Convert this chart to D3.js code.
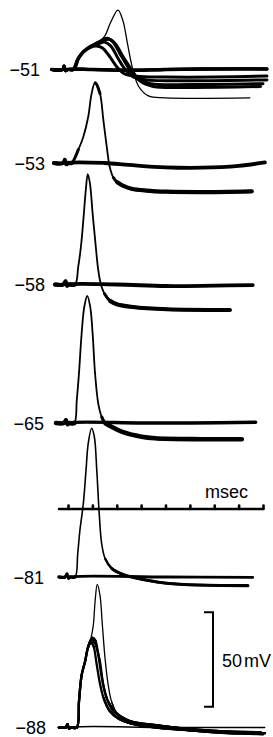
<!DOCTYPE html>
<html>
<head>
<meta charset="utf-8">
<script src="https://cdn.jsdelivr.net/npm/d3@7"></script>
<style>
  html, body { margin: 0; padding: 0; background: #fff; }
  svg { display: block; }
  text { font-family: "Liberation Sans", Arial, sans-serif; fill: #000; }
  path.trace { fill: none; stroke: #000; stroke-linecap: round; stroke-linejoin: round; }
</style>
</head>
<body>
<svg id="chart"></svg>
<script>
// resting potential of each row of sweeps (mV)
var restPotentials = [-51, -53, -58, -65, -81, -88];

// time marker: one pip per msec
var timeMarks = [0, 1, 2, 3, 4, 5, 6, 7, 8];
var timeMarkSpan = [-0.37, 8];

// calibration bar (mV)
var calibMv = 50;

// sweeps: [msec after stimulus, mV from rest]
// -51 mV: one flat sweep, graded humps, one full spike
var flat51 = [[-0.66,0],[-0.22,0],[-0.16,1.8],[-0.1,-0.6],[-0.02,0],[1,0],[2.5,-0.4],[4,0],[6,0.3],[8.16,0.3]];
var humpA51 = [[-0.66,0],[-0.22,0],[-0.16,1.8],[-0.1,-0.6],[-0.02,0],[0.22,0],[0.42,5.6],[0.63,9.2],[0.9,11.6],[1.15,12.4],[1.4,11.5],[1.7,7],[2.0,1.5],[2.3,-2.2],[2.8,-3.6],[4,-4],[6,-4],[8.16,-3.5]];
var humpB51 = [[-0.66,0],[-0.22,0],[-0.16,1.8],[-0.1,-0.6],[-0.02,0],[0.24,0],[0.44,6.2],[0.65,9.8],[0.9,12.2],[1.2,13.4],[1.5,14.5],[1.75,12.5],[2.05,6],[2.35,0],[2.7,-4],[3.2,-5.5],[5,-6],[8.16,-5.5]];
var humpC51 = [[-0.66,0],[-0.22,0],[-0.16,1.8],[-0.1,-0.6],[-0.02,0],[0.2,0],[0.4,5.4],[0.61,9],[0.9,12],[1.2,14],[1.6,16.5],[1.85,14.5],[2.15,8],[2.5,0.5],[2.8,-4.5],[3.4,-7.5],[5,-8],[8.0,-7.5]];
var humpD51 = [[-0.66,0],[-0.22,0],[-0.16,1.8],[-0.1,-0.6],[-0.02,0],[0.22,0],[0.42,5.9],[0.63,9.4],[0.9,11.8],[1.25,14.5],[1.7,16],[1.95,13.5],[2.25,7],[2.6,0],[2.95,-6],[3.5,-9],[5,-9.5],[7.9,-9]];
var spike51 = [[-0.66,0],[-0.22,0],[-0.16,1.8],[-0.1,-0.6],[-0.02,0],[0.22,0],[0.42,5.9],[0.63,9.4],[0.9,11.8],[1.2,13.8],[1.5,17.5],[1.75,25],[2.05,31.5],[2.25,26],[2.45,13],[2.66,0],[2.9,-9],[3.3,-14],[4,-15],[7.46,-15]];

// -53 mV
var flat53 = [[-0.57,0],[-0.2,0],[-0.13,1.8],[-0.07,-0.6],[0,0],[1.5,0],[2.5,-1],[4,-2.3],[5.5,-2.5],[7,-1.5],[8.08,0.3]];
var spike53 = [[-0.57,0],[-0.2,0],[-0.13,1.8],[-0.07,-0.6],[0,0],[0.15,0],[0.42,6.9],[0.63,13.9],[0.83,24.5],[0.97,36.9],[1.11,42.5],[1.31,36.9],[1.45,22.8],[1.59,8.6],[1.68,0],[1.75,-4],[1.85,-7.5],[2.0,-10],[2.25,-12],[2.6,-13.6],[3.2,-14.6],[4.06,-15.2],[5.5,-15.4],[7.54,-15]];

// -58 mV
var flat58 = [[-0.53,0],[-0.2,0],[-0.1,1.8],[-0.04,-0.6],[0.02,0],[2,0],[4,-0.8],[6,-0.6],[7.58,-0.3]];
var spike58 = [[-0.53,0],[-0.2,0],[-0.1,1.8],[-0.04,-0.6],[0.02,0],[0.29,0],[0.42,9.4],[0.53,20],[0.63,34.2],[0.73,50],[0.81,58.5],[0.9,53.6],[1.01,37.7],[1.14,20],[1.24,7.7],[1.35,0],[1.49,-4.7],[1.72,-8.6],[2.0,-10.4],[2.66,-11.9],[4.06,-13.1],[6.64,-13.5]];

// -65 mV
var flat65 = [[-0.49,0],[-0.18,0],[-0.08,1.8],[-0.02,-0.6],[0.04,0],[3,0],[5,0],[7.7,0.4]];
var spike65 = [[-0.49,0],[-0.18,0],[-0.08,1.8],[-0.02,-0.6],[0.04,0],[0.26,0],[0.36,12.2],[0.45,26.3],[0.56,47.5],[0.67,61.6],[0.79,67.3],[0.91,61.6],[1.01,47.5],[1.11,26.3],[1.24,10.4],[1.38,3.3],[1.52,0],[1.79,-2],[2.2,-4.6],[3.02,-7.3],[3.57,-8.1],[5.41,-8.6],[7.13,-8.6]];

// -81 mV
var flat81 = [[-0.37,0],[-0.12,0],[-0.04,1.8],[0.02,-0.6],[0.08,0],[4,0],[7.58,-0.2]];
var spike81 = [[-0.37,0],[-0.12,0],[-0.04,1.8],[0.02,-0.6],[0.08,0],[0.29,0],[0.4,12.6],[0.49,24.9],[0.63,39],[0.74,56.7],[0.83,70.8],[0.97,78.8],[1.08,74.3],[1.18,56.7],[1.28,33.7],[1.38,17.8],[1.52,9.9],[1.79,4.6],[2.2,1.6],[2.61,0],[4.05,-3.3],[7.38,-4.6]];

// -88 mV: flat sweep, three humps, one full spike
var flat88 = [[-0.37,0],[-0.1,0],[-0.02,1.8],[0.04,-0.6],[0.1,0],[4,0],[8.07,0]];
var humpA88 = [[-0.37,0],[-0.1,0],[-0.02,1.8],[0.04,-0.6],[0.1,0],[0.36,0],[0.45,13.7],[0.56,27.8],[0.7,34.9],[0.83,42.8],[0.97,46.5],[1.1,45],[1.2,41],[1.31,35],[1.45,22.5],[1.65,13.7],[2.06,6.6],[2.61,3.1],[3.57,1.3],[5.41,-1.5],[8.07,-3]];
var humpB88 = [[-0.37,0],[-0.1,0],[-0.02,1.8],[0.04,-0.6],[0.1,0],[0.36,0],[0.45,13.7],[0.56,27.8],[0.7,34.9],[0.83,42.8],[1.0,47.5],[1.12,46],[1.25,38],[1.38,27],[1.55,17],[1.79,10],[2.2,5.5],[2.8,2],[4,0],[6,-2.5],[8.0,-3.5]];
var humpC88 = [[-0.37,0],[-0.1,0],[-0.02,1.8],[0.04,-0.6],[0.1,0],[0.36,0],[0.45,13.7],[0.56,27.8],[0.7,34.9],[0.83,42.8],[0.95,45],[1.05,43],[1.17,34],[1.3,24],[1.45,16],[1.7,9],[2.1,4.5],[2.8,1.5],[4,-0.5],[6,-2],[7.9,-2.5]];
var spike88 = [[-0.37,0],[-0.1,0],[-0.02,1.8],[0.04,-0.6],[0.1,0],[0.36,0],[0.45,13.7],[0.56,27.8],[0.7,34.9],[0.83,42.8],[0.94,47.2],[1.04,54.3],[1.11,66.6],[1.2,75.8],[1.31,70.2],[1.41,54.3],[1.52,36.6],[1.65,22.5],[1.79,13.7],[2.06,6.6],[2.61,3.1],[3.57,1.3],[5.41,-1],[8.07,-3]];

var panelTraces = [
  [flat51, humpA51, humpB51, humpC51, humpD51, spike51],
  [flat53, spike53],
  [flat58, spike58],
  [flat65, spike65],
  [flat81, spike81],
  [flat88, humpA88, humpB88, humpC88, spike88]
];

// layout (px)
var width = 273, height = 737;
var panelBase = [69.5, 163, 284.5, 423, 577, 727.5];
var labelRight = [40, 45, 45, 44, 44, 46];
var timeBase = 509;
var calibX = 213, calibTop = 612.3;
var pxPer50 = 94.4;
// [fast stroke, slow stroke] for each sweep
var traceWidths = [
  [[2.8, 3.4], [3, 3], [3, 3], [3, 3], [3, 3], [1.3, 1.3]],
  [[3.8, 3.8], [1.8, 4.2]],
  [[3.8, 3.8], [1.8, 4.2]],
  [[3.4, 3.4], [1.8, 4.6]],
  [[2.8, 2.8], [1.6, 3.2]],
  [[1.5, 1.5], [2.3, 2.4], [2.3, 2.4], [2.3, 2.4], [1.3, 1.4]]
];

var svg = d3.select("#chart").attr("width", width).attr("height", height);

var x = d3.scaleLinear().domain([0, 8]).range([68, 263]);
var mv = d3.scaleLinear().domain([0, calibMv]).range([0, pxPer50]);

var line = d3.line().curve(d3.curveCatmullRom.alpha(0.5));

// path length at which the sweep reaches a given x (sweeps run left to right)
function lengthAtX(node, xv, total) {
  var lo = 0, hi = total;
  for (var k = 0; k < 28; k++) {
    var mid = (lo + hi) / 2;
    if (node.getPointAtLength(mid).x < xv) lo = mid; else hi = mid;
  }
  return lo;
}

function drawTrace(g, y, pts, w) {
  var p = pts.map(function (d) { return [x(d[0]), y(d[1])]; });
  var d = line(p);
  var base = g.append("path").attr("class", "trace").attr("d", d).attr("stroke-width", w[0]);
  if (w[1] <= w[0]) return;
  var node = base.node(), total = node.getTotalLength();
  var lens = p.map(function (q, i) { return i === 0 ? 0 : lengthAtX(node, q[0], total); });

  // slow parts of the sweep leave a heavier trace on the film:
  // overlay dashes along the same curve, heavy for slow, medium for moderate
  [[2.2, (w[0] + w[1]) / 2], [1.2, w[1]]].forEach(function (tier) {
    var dash = [], pos = 0, start = null;
    for (var i = 1; i <= p.length; i++) {
      var slow = i < p.length &&
        Math.abs((p[i][1] - p[i - 1][1]) / (p[i][0] - p[i - 1][0])) < tier[0];
      if (slow && start === null) start = lens[i - 1];
      if (!slow && start !== null) {
        var end = lens[i - 1];
        dash.push(start - pos, end - start);
        pos = end;
        start = null;
      }
    }
    if (!dash.length) return;
    dash.push(total - pos + 1);
    // dasharray starts with a dash, so lead with an empty one
    var arr = [0].concat(dash);
    g.append("path").attr("class", "trace").attr("d", d)
      .attr("stroke-width", tier[1])
      .attr("stroke-linecap", "butt")
      .attr("stroke-dasharray", arr.join(","));
  });
}

restPotentials.forEach(function (rest, i) {
  var base = panelBase[i];
  var y = function (v) { return base - mv(v); };
  var g = svg.append("g");
  panelTraces[i].forEach(function (pts, j) {
    drawTrace(g, y, pts, traceWidths[i][j]);
  });
  svg.append("text")
    .attr("x", labelRight[i])
    .attr("y", base + 6.5)
    .attr("text-anchor", "end")
    .attr("font-size", 18)
    .text("\u2212" + Math.abs(rest));
});

// time marker sweep
var tg = svg.append("g");
tg.append("path").attr("class", "trace")
  .attr("d", line(timeMarkSpan.map(function (t) { return [x(t), timeBase]; })))
  .attr("stroke-width", 2.4);
var axis = d3.axisTop(x).tickValues(timeMarks).tickSize(3.5).tickSizeOuter(0).tickFormat("");
var ag = tg.append("g").attr("transform", "translate(0," + timeBase + ")").call(axis);
ag.select(".domain").remove();
ag.selectAll(".tick line").attr("stroke", "#000").attr("stroke-width", 2.6).attr("stroke-linecap", "round");
svg.append("text")
  .attr("x", 205).attr("y", 498)
  .attr("font-size", 18)
  .text("msec");

// 50 mV calibration bracket
svg.append("path").attr("class", "trace")
  .attr("d", "M" + (calibX - 9) + "," + calibTop + "H" + calibX +
             "V" + (calibTop + mv(calibMv)) + "H" + (calibX - 9))
  .attr("stroke-width", 2)
  .style("stroke-linecap", "butt").style("stroke-linejoin", "miter");
var cal = svg.append("text")
  .attr("x", 222).attr("y", calibTop + mv(calibMv) / 2 + 7)
  .attr("font-size", 18);
cal.append("tspan").text(calibMv);
cal.append("tspan").attr("dx", 2).text("mV");
</script>
</body>
</html>
